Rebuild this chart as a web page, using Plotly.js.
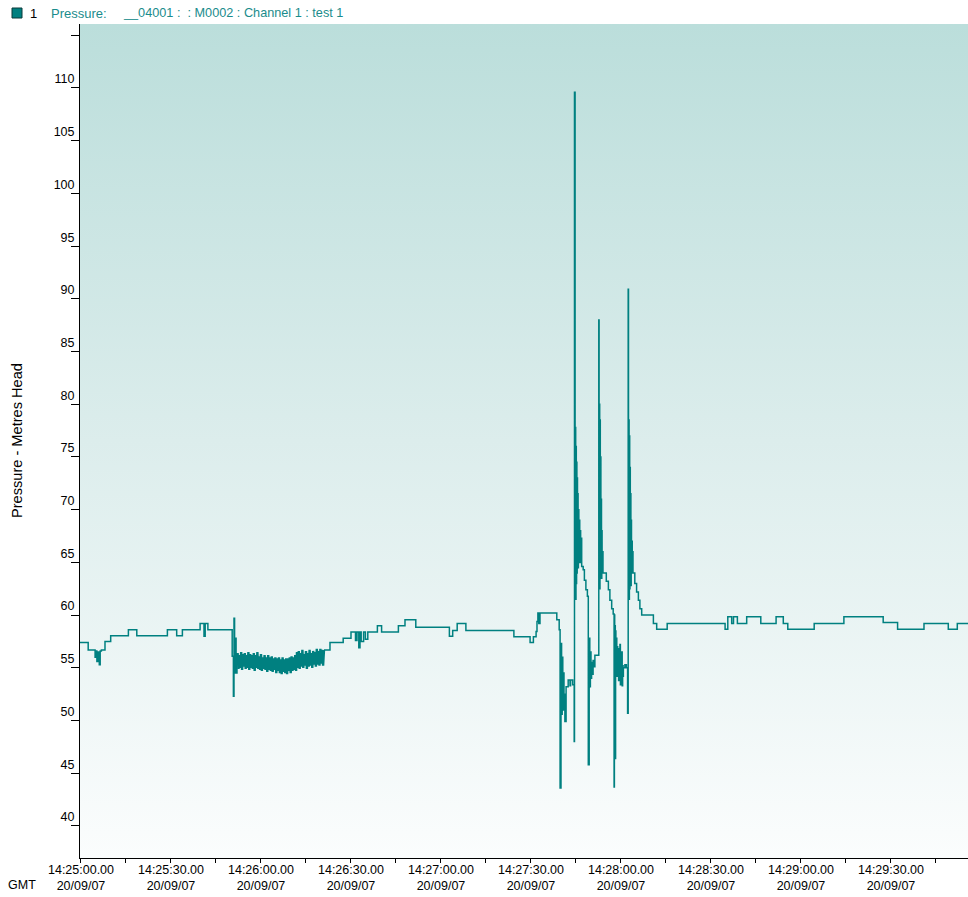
<!DOCTYPE html>
<html>
<head>
<meta charset="utf-8">
<script src="https://cdn.plot.ly/plotly-3.0.1.min.js"></script>
<style>
  html, body { margin: 0; padding: 0; background: #ffffff; }
  #chart { width: 968px; height: 897px; }
</style>
</head>
<body>
<div id="chart"></div>
<script>
// ---- Data: seconds after 14:25:00 (20/09/07) and pressure (metres head) ----
// Before the first disturbance
const tPre = [-0.33, 2.4, 4.7, 5.0, 5.3, 5.6, 5.9, 6.1, 6.4, 6.8, 8.0, 9.9, 15.8, 18.6, 28.8, 31.9, 33.8, 39.7, 41.0, 41.4, 42.3];
const pPre = [57.4, 56.7, 56.0, 56.6, 55.6, 56.5, 55.9, 55.3, 56.6, 56.7, 57.5, 58.05, 58.6, 58.05, 58.6, 58.05, 58.6, 59.2, 58.0, 59.2, 58.6];

// Disturbance at 14:25:50
const tJolt = [50.4, 50.8, 51.0, 51.2, 51.4, 51.7, 52.0];
const pJolt = [56.1, 52.3, 59.7, 54.5, 57.8, 54.5, 56.0];

// Noisy band 14:25:52 - 14:26:21
const tBand = [52.2, 52.5, 52.8, 53.1, 53.4, 53.7, 54.0, 54.3, 54.6, 54.9, 55.2, 55.5, 55.8, 56.1, 56.4, 56.7, 57.0, 57.3, 57.6, 57.9,
  58.2, 58.5, 58.8, 59.1, 59.4, 59.7, 60.0, 60.3, 60.6, 60.9, 61.2, 61.5, 61.8, 62.1, 62.4, 62.7, 63.0, 63.3, 63.6, 63.9,
  64.2, 64.5, 64.8, 65.1, 65.4, 65.7, 66.0, 66.3, 66.6, 66.9, 67.2, 67.5, 67.8, 68.1, 68.4, 68.7, 69.0, 69.3, 69.6, 69.9,
  70.2, 70.5, 70.8, 71.1, 71.4, 71.7, 72.0, 72.3, 72.6, 72.9, 73.2, 73.5, 73.8, 74.1, 74.4, 74.7, 75.0, 75.3, 75.6, 75.9,
  76.2, 76.5, 76.8, 77.1, 77.4, 77.7, 78.0, 78.3, 78.6, 78.9, 79.2, 79.5, 79.8, 80.1, 80.4, 80.7, 81.0];
const pBand = [56.4, 54.9, 56.2, 55.0, 56.5, 54.8, 56.3, 55.1, 56.4, 54.9, 56.2, 55.0, 56.5, 54.8, 56.3, 55.0, 56.2, 54.9, 56.4, 54.7,
  56.2, 55.0, 56.5, 54.9, 56.1, 54.8, 56.3, 54.7, 56.0, 54.9, 56.2, 54.8, 56.0, 54.6, 56.2, 54.8, 56.0, 54.7, 56.1, 54.6,
  55.9, 54.8, 56.0, 54.5, 55.9, 54.7, 56.0, 54.5, 55.8, 54.4, 56.0, 54.6, 55.8, 54.5, 55.9, 54.4, 55.9, 54.7, 56.0, 54.5,
  56.1, 54.7, 56.0, 54.8, 56.2, 54.7, 56.5, 55.0, 56.6, 54.9, 56.4, 55.1, 56.7, 55.0, 56.3, 55.2, 56.6, 54.9, 56.4, 55.1,
  56.7, 55.2, 56.4, 55.0, 56.6, 55.3, 56.5, 55.1, 56.8, 55.3, 56.6, 55.2, 56.8, 55.4, 56.7, 55.2, 56.7];

// Steady period 14:26:21 - 14:27:39
const tMid = [81.3, 83.0, 87.4, 90.0, 91.5, 92.0, 92.6, 93.0, 93.4, 94.2, 94.8, 95.6, 98.8, 100.2, 105.8, 108.0, 111.6, 122.8, 123.9, 125.4,
  128.3, 144.3, 149.7, 150.8, 151.7, 152.0, 152.3, 152.6, 153.0, 158.6, 159.4];
const pMid = [56.7, 57.4, 57.8, 58.4, 57.6, 58.4, 56.9, 58.4, 57.5, 58.4, 57.7, 58.4, 59.0, 58.4, 59.0, 59.55, 58.85, 58.0, 58.55, 59.2,
  58.55, 57.95, 57.4, 57.95, 58.45, 59.4, 60.2, 59.2, 60.2, 59.55, 58.6];

// Surge event 14:27:40 - 14:28:15
const tSurge = [159.7, 160.0, 160.2, 160.4, 160.6, 160.8, 161.0, 161.3, 161.7, 162.4, 163.0, 163.2, 163.9, 164.4, 164.5,
  164.7, 164.8, 164.9, 165.0, 165.1, 165.2, 165.3, 165.4, 165.5, 165.6, 165.7, 165.8, 165.95, 166.1, 166.25, 166.4, 166.55, 166.7,
  166.9, 167.4, 167.8, 168.3, 168.8, 169.1, 169.4, 169.6, 169.8, 170.0, 170.2, 170.4, 170.7, 171.0, 171.3,
  172.6, 172.7, 172.8, 172.9, 173.0, 173.1, 173.2, 173.3, 173.4, 173.5, 173.6, 173.7, 173.85, 174.0, 175.1, 175.8, 176.3, 176.9, 177.4,
  177.7, 177.8, 177.9, 178.0, 178.1, 178.2, 178.3, 178.45, 178.6, 178.75, 178.9, 179.05, 179.2, 179.35, 179.5, 179.65, 179.8, 179.95,
  180.1, 180.25, 180.4, 180.55, 180.7, 180.8, 181.3, 181.8, 182.2,
  182.4, 182.5, 182.6, 182.7, 182.8, 182.9, 183.0, 183.1, 183.2, 183.3, 183.4, 183.5, 183.6, 183.75, 183.9, 184.0,
  184.6, 185.2, 185.8, 186.3, 186.9, 190.8, 191.9, 195.4];
const pSurge = [43.6, 57.3, 50.6, 56.0, 51.0, 54.5, 52.5, 49.9, 53.2, 53.85, 53.3, 53.85, 53.4, 48.0, 109.6,
  62.0, 77.8, 61.5, 76.0, 63.0, 74.5, 64.0, 73.0, 65.0, 71.5, 64.5, 70.0, 65.5, 69.0, 65.0, 68.0, 65.8, 67.3,
  64.6, 64.3, 63.3, 62.4, 61.8, 45.8, 57.8, 53.2, 56.5, 54.0, 55.5, 54.4, 55.7, 55.1, 56.2,
  88.0, 63.0, 80.0, 62.5, 78.5, 63.5, 75.0, 64.0, 71.0, 63.5, 68.0, 64.5, 66.0, 64.0, 63.2, 62.4, 61.4, 60.6, 60.1,
  43.7, 60.0, 54.5, 59.0, 46.4, 58.5, 55.0, 57.8, 54.2, 57.0, 55.5, 56.8, 53.8, 56.2, 54.6, 57.2, 53.4, 55.8,
  54.0, 56.5, 53.3, 55.2, 54.2, 55.0, 55.3, 55.0, 50.7,
  90.9, 62.0, 78.5, 61.5, 77.0, 62.5, 74.0, 63.0, 71.5, 62.8, 69.0, 64.0, 67.0, 64.5, 66.0, 64.0,
  63.0, 62.2, 61.4, 60.6, 60.0, 59.2, 58.65, 59.2];

// After the surge
const tPost = [214.7, 215.6, 216.9, 217.5, 218.8, 221.9, 226.6, 231.7, 234.1, 235.6, 244.4, 254.3, 267.4, 272.2, 281.0, 289.1, 292.1, 295.67];
const pPost = [58.65, 59.85, 59.2, 59.85, 59.2, 59.85, 59.2, 59.85, 59.2, 58.65, 59.2, 59.85, 59.3, 58.65, 59.2, 58.65, 59.2, 59.2];

// Axis ticks
const xTickSec = [0, 30, 60, 90, 120, 150, 180, 210, 240, 270];
const xTickTime = ['14:25:00.00', '14:25:30.00', '14:26:00.00', '14:26:30.00', '14:27:00.00',
                   '14:27:30.00', '14:28:00.00', '14:28:30.00', '14:29:00.00', '14:29:30.00'];
const xTickDate = ['20/09/07', '20/09/07', '20/09/07', '20/09/07', '20/09/07',
                   '20/09/07', '20/09/07', '20/09/07', '20/09/07', '20/09/07'];
const yTickVals = [40, 45, 50, 55, 60, 65, 70, 75, 80, 85, 90, 95, 100, 105, 110, 115];
const yTickText = ['40', '45', '50', '55', '60', '65', '70', '75', '80', '85', '90', '95', '100', '105', '110', ''];

// ---- Build series (split so the dense noise band can be stroked a little heavier) ----
const nB = tBand.length;
const tFirst = [].concat(tPre, tJolt, [tBand[0]]);
const pFirst = [].concat(pPre, pJolt, [pBand[0]]);
const tLast = [].concat([tBand[nB - 1]], tMid, tSurge, tPost);
const pLast = [].concat([pBand[nB - 1]], pMid, pSurge, pPost);

const FONT = 'Liberation Sans, Arial, Helvetica, sans-serif';
const TEAL = '#008080';

const gradSvg = "<svg xmlns='http://www.w3.org/2000/svg' width='10' height='100' preserveAspectRatio='none'>" +
  "<defs><linearGradient id='g' x1='0' y1='0' x2='0' y2='1'>" +
  "<stop offset='0' stop-color='#bbdedb'/><stop offset='0.5' stop-color='#dcedec'/><stop offset='1' stop-color='#fbfdfd'/>" +
  "</linearGradient></defs><rect width='10' height='100' fill='url(#g)'/></svg>";
const gradURI = 'data:image/svg+xml;charset=utf-8,' + encodeURIComponent(gradSvg);

const PW = 888, PH = 834, ML = 80, MT = 24;
function px(x) { return (x - ML) / PW; }
function py(y) { return (MT + PH - y) / PH; }

function seg(x, y, w, shape) {
  return { x: x, y: y, type: 'scatter', mode: 'lines',
           line: { color: TEAL, width: w, shape: shape }, hoverinfo: 'skip', name: 'Pressure' };
}
const traces = [seg(tFirst, pFirst, 1.5, 'hv'), seg(tBand, pBand, 2.4, 'linear'), seg(tLast, pLast, 1.5, 'hv')];

const layout = {
  width: 968, height: 897,
  margin: { l: ML, r: 0, t: MT, b: 39, pad: 0 },
  paper_bgcolor: '#ffffff',
  plot_bgcolor: 'rgba(0,0,0,0)',
  showlegend: false,
  font: { family: FONT, size: 12.5, color: '#000' },
  xaxis: {
    range: [-0.33, 295.67],
    tickvals: xTickSec,
    ticktext: xTickSec.map((_, i) => xTickTime[i] + '<br>' + xTickDate[i]),
    ticks: 'outside', ticklen: 4, tickwidth: 1, tickcolor: '#000',
    ticklabelstandoff: -4,
    minor: { tick0: 0, dtick: 15, ticks: 'outside', ticklen: 4, tickcolor: '#000', showgrid: false },
    showline: true, linecolor: '#000', linewidth: 1,
    showgrid: false, zeroline: false,
    tickfont: { family: FONT, size: 12.5, color: '#000' },
    fixedrange: true
  },
  yaxis: {
    range: [36.96, 116.07],
    tickvals: yTickVals, ticktext: yTickText,
    ticks: 'outside', ticklen: 8, tickwidth: 1, tickcolor: '#000',
    ticklabelshift: -9, ticklabelstandoff: -6,
    showline: true, linecolor: '#000', linewidth: 1,
    showgrid: false, zeroline: false,
    tickfont: { family: FONT, size: 12.5, color: '#000' },
    fixedrange: true
  },
  images: [{
    source: gradURI, xref: 'paper', yref: 'paper',
    x: 0, y: 1, sizex: 1, sizey: 1, xanchor: 'left', yanchor: 'top',
    sizing: 'stretch', layer: 'below'
  }],
  shapes: [{
    type: 'rect', xref: 'paper', yref: 'paper',
    x0: px(12), x1: px(22), y0: py(18), y1: py(8),
    fillcolor: TEAL, line: { color: '#0b3b3b', width: 1 }
  }],
  annotations: [
    { text: '1', xref: 'paper', yref: 'paper', x: px(28), y: py(13), xanchor: 'left', yanchor: 'middle',
      showarrow: false, font: { family: FONT, size: 13, color: '#000' } },
    { text: 'Pressure:', xref: 'paper', yref: 'paper', x: px(49), y: py(13), xanchor: 'left', yanchor: 'middle',
      showarrow: false, font: { family: FONT, size: 13, color: '#1a8c8c' } },
    { text: '__04001 :\u00a0 : M0002 : Channel 1 : test 1', xref: 'paper', yref: 'paper', x: px(121), y: py(13),
      xanchor: 'left', yanchor: 'middle', showarrow: false, font: { family: FONT, size: 12.7, color: '#1a8c8c' } },
    { text: 'GMT', xref: 'paper', yref: 'paper', x: px(22), y: py(885), xanchor: 'center', yanchor: 'middle',
      showarrow: false, font: { family: FONT, size: 12.5, color: '#000' } },
    { text: 'Pressure - Metres Head', xref: 'paper', yref: 'paper', x: px(17), y: py(441), xanchor: 'center', yanchor: 'middle',
      textangle: -90, showarrow: false, font: { family: FONT, size: 14.6, color: '#000' } }
  ]
};

Plotly.newPlot('chart', traces, layout, { displayModeBar: false, staticPlot: true });
</script>
</body>
</html>
